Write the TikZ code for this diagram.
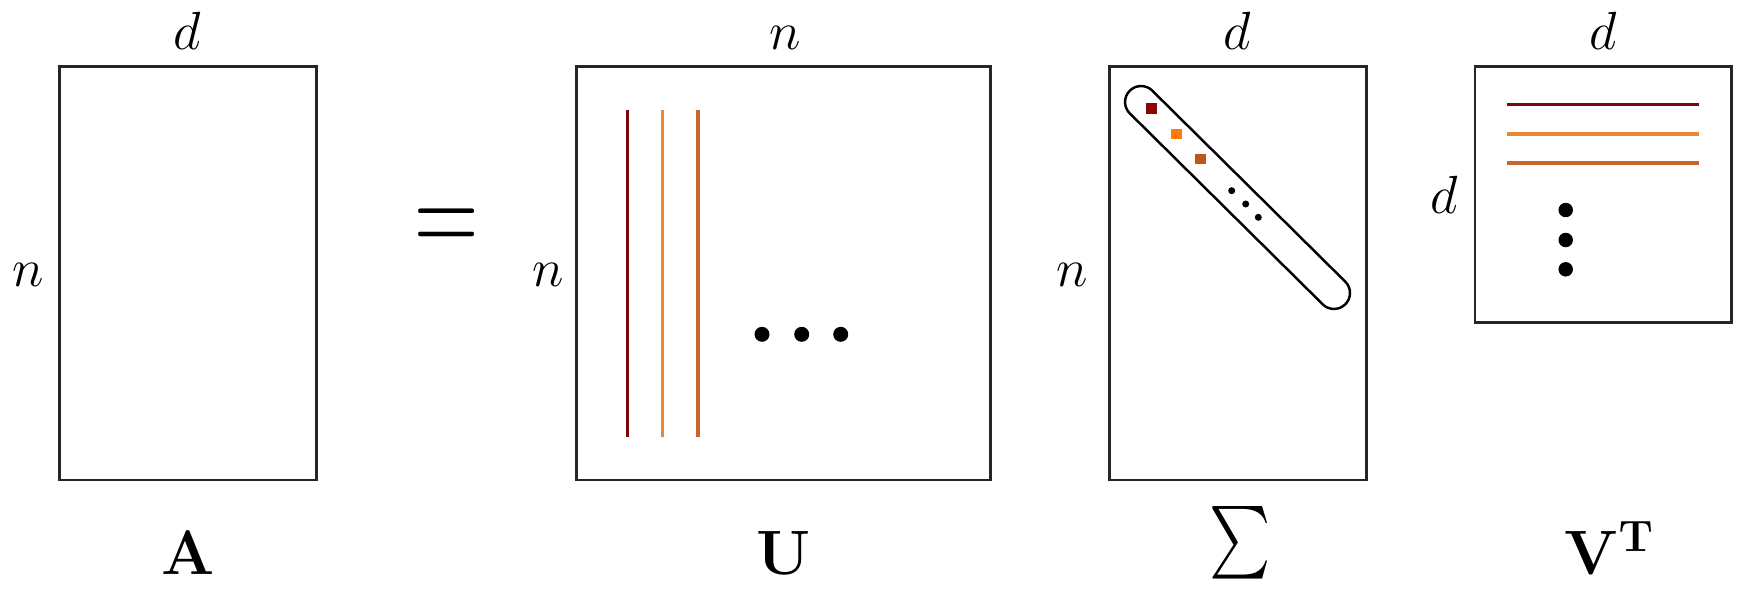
\RequirePackage{fix-cm}
\documentclass[tikz,border=0pt]{standalone}
\usepackage{exscale}
\usepackage{graphicx}
\definecolor{svA}{RGB}{122,8,8}
\definecolor{svB}{RGB}{238,135,52}
\definecolor{svC}{RGB}{200,102,42}
\definecolor{sqA}{RGB}{140,5,5}
\definecolor{sqB}{RGB}{255,122,10}
\definecolor{sqC}{RGB}{190,85,25}
\begin{document}
\begin{tikzpicture}[x=0.02cm,y=-0.02cm,
  matbox/.style={draw=black!85, line width=1.5pt, rectangle, inner sep=0pt, outer sep=0pt},
  dimlab/.style={inner sep=0pt, anchor=base, font=\fontsize{30.6}{36}\selectfont},
  namelab/.style={inner sep=0pt, anchor=base, font=\fontsize{35.7}{42}\selectfont},
  vec/.style={line width=2pt},
  bigdot/.style={circle, fill=black, inner sep=0pt, minimum size=0.3cm},
  smalldot/.style={circle, fill=black, inner sep=0pt, minimum size=0.14cm},
  entry/.style={rectangle, inner sep=0pt, minimum size=0.22cm},
]
\useasboundingbox (0,0) rectangle (1740,588);
% matrices
\node[matbox, minimum width=5.15cm, minimum height=8.27cm] (A) at (188,273.3) {};
\node[matbox, minimum width=8.28cm, minimum height=8.27cm] (U) at (783.7,273.3) {};
\node[matbox, minimum width=5.15cm, minimum height=8.27cm] (S) at (1238,273.3) {};
\node[matbox, minimum width=5.13cm, minimum height=5.12cm] (V) at (1603.3,194.7) {};
% dimension labels
\node[dimlab] (Ad) at (187,50) {$d$};
\node[dimlab] (An) at (28,286) {$n$};
\node[dimlab] (Un) at (785,50) {$n$};
\node[dimlab] (Uln) at (548,286) {$n$};
\node[dimlab] (Sd) at (1237,50) {$d$};
\node[dimlab] (Sn) at (1072,286) {$n$};
\node[dimlab] (Vd) at (1603,50) {$d$};
\node[dimlab] (Vld) at (1444,213.3) {$d$};
% names
\node[namelab] (Aname) at (188,574) {$\mathbf{A}$};
\node[namelab] (Uname) at (784,574) {$\mathbf{U}$};
\node[namelab, anchor=center] (Sname) at (1240,543) {\scalebox{1.33}[1.66]{$\sum$}};
\node[namelab] (Vname) at (1609,574) {$\mathbf{V}^{\mathbf{T}}$};
% equals
\node[inner sep=0pt, font=\fontsize{67.7}{70}\selectfont] (eq) at (447,232) {\scalebox{0.75}[1.1]{$=$}};
% U columns
\draw[vec, svA] (627.3,110) -- (627.3,436.7);
\draw[vec, svB] (662.7,110) -- (662.7,436.7);
\draw[vec, svC] (698,110) -- (698,436.7);
\node[bigdot] (ud1) at (762,334.3) {};
\node[bigdot] (ud2) at (801.7,334.3) {};
\node[bigdot] (ud3) at (840.7,334.3) {};
% Sigma diagonal
\node[draw=black, line width=1.4pt, rectangle, rounded corners=0.32cm, minimum width=6.07cm, minimum height=0.64cm, rotate=-44.7, inner sep=0pt] (pill) at (1237.5,197.5) {};
\node[entry, fill=sqA] (s1) at (1151,108.3) {};
\node[entry, fill=sqB] (s2) at (1176,134) {};
\node[entry, fill=sqC] (s3) at (1200.7,159) {};
\node[smalldot] (sd1) at (1231.7,190.7) {};
\node[smalldot] (sd2) at (1245.7,204) {};
\node[smalldot] (sd3) at (1258.3,217.3) {};
% V^T rows
\draw[vec, svA] (1507.3,104.7) -- (1699,104.7);
\draw[vec, svB] (1507.3,134) -- (1699,134);
\draw[vec, svC] (1507.3,163) -- (1699,163);
\node[bigdot, minimum size=0.29cm] (vd1) at (1565.7,210) {};
\node[bigdot, minimum size=0.29cm] (vd2) at (1565.7,240) {};
\node[bigdot, minimum size=0.29cm] (vd3) at (1565.7,269.3) {};
\end{tikzpicture}
\end{document}
